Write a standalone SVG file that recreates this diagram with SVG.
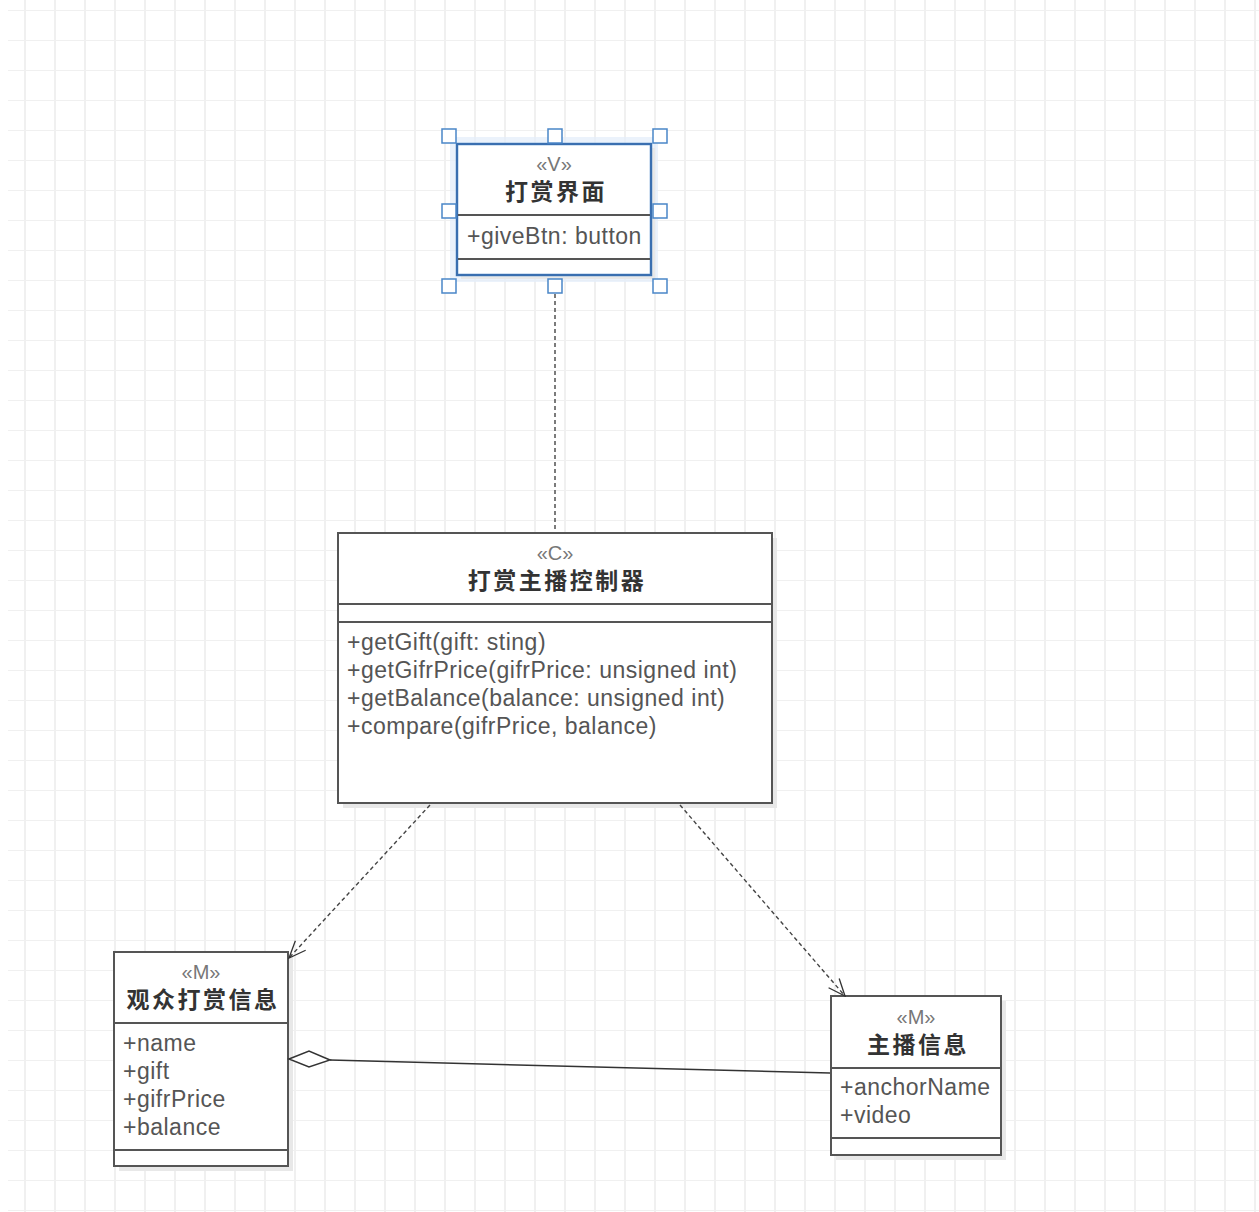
<svg xmlns="http://www.w3.org/2000/svg" width="1259" height="1212" viewBox="0 0 1259 1212">
<defs>
<pattern id="grid" x="10" y="10" width="30" height="30" patternUnits="userSpaceOnUse">
<path d="M15 0V30M0 0H30" fill="none" stroke="#f0f0f0" stroke-width="2"/>
</pattern>
<marker id="open" viewBox="0 0 20 20" refX="19" refY="10" markerWidth="20" markerHeight="20" markerUnits="userSpaceOnUse" orient="auto">
<path d="M2 3L19 10L2 17" fill="none" stroke="#333" stroke-width="1.3"/>
</marker>
</defs>
<style>
.box{fill:#fff;stroke:#555;stroke-width:2}
.shadow{fill:#e8e8e8}
.div{stroke:#555;stroke-width:2}
.st{font-family:"Liberation Sans",Arial,sans-serif;font-size:20px;fill:#777;text-anchor:middle}
.nm{font-family:"Noto Sans CJK SC","Noto Sans",sans-serif;font-size:23px;font-weight:bold;fill:#333;text-anchor:middle;letter-spacing:2.5px}
.at{font-family:"Liberation Sans",Arial,sans-serif;font-size:23px;fill:#555;letter-spacing:0.5px}
.dash{fill:none;stroke:#444;stroke-width:1.4;stroke-dasharray:4 3}
.solid{fill:none;stroke:#333;stroke-width:1.5}
.dia{fill:#fff;stroke:#333;stroke-width:1.5}
.h{fill:#fff;stroke:#4a86c8;stroke-width:1.5}
</style>
<rect width="1259" height="1212" fill="#fff"/>
<rect x="8" y="0" width="1251" height="1212" fill="url(#grid)"/>

<g id="view">
<rect x="450" y="137" width="208" height="145" fill="#e3edf9" opacity="0.7"/>
<rect class="shadow" x="461" y="148" width="194" height="131"/>
<rect x="457" y="144" width="194" height="131" fill="#fff" stroke="#4a86c8" stroke-width="2.5"/>
<line class="div" x1="458" y1="215" x2="650" y2="215"/>
<line class="div" x1="458" y1="259" x2="650" y2="259"/>
<rect x="457" y="144" width="194" height="131" fill="none" stroke="#3a6fb0" stroke-width="2"/>
<text class="st" x="554" y="171">«V»</text>
<text class="nm" x="556" y="200">打赏界面</text>
<text class="at" x="467" y="244">+giveBtn: button</text>
<rect class="h" x="442" y="129" width="14" height="14"/>
<rect class="h" x="548" y="129" width="14" height="14"/>
<rect class="h" x="653" y="129" width="14" height="14"/>
<rect class="h" x="442" y="204" width="14" height="14"/>
<rect class="h" x="653" y="204" width="14" height="14"/>
<rect class="h" x="442" y="279" width="14" height="14"/>
<rect class="h" x="548" y="279" width="14" height="14"/>
<rect class="h" x="653" y="279" width="14" height="14"/>
</g>

<g id="controller">
<rect class="shadow" x="343" y="538" width="434" height="270"/>
<rect class="box" x="338" y="533" width="434" height="270"/>
<line class="div" x1="338" y1="604" x2="772" y2="604"/>
<line class="div" x1="338" y1="622" x2="772" y2="622"/>
<text class="st" x="555" y="560">«C»</text>
<text class="nm" x="557" y="589">打赏主播控制器</text>
<text class="at" x="347" y="650">+getGift(gift: sting)</text>
<text class="at" x="347" y="678">+getGifrPrice(gifrPrice: unsigned int)</text>
<text class="at" x="347" y="706">+getBalance(balance: unsigned int)</text>
<text class="at" x="347" y="734">+compare(gifrPrice, balance)</text>
</g>

<g id="audience">
<rect class="shadow" x="119" y="957" width="174" height="214"/>
<rect class="box" x="114" y="952" width="174" height="214"/>
<line class="div" x1="114" y1="1023" x2="288" y2="1023"/>
<line class="div" x1="114" y1="1150" x2="288" y2="1150"/>
<text class="st" x="201" y="979">«M»</text>
<text class="nm" x="203" y="1008">观众打赏信息</text>
<text class="at" x="123" y="1051">+name</text>
<text class="at" x="123" y="1079">+gift</text>
<text class="at" x="123" y="1107">+gifrPrice</text>
<text class="at" x="123" y="1135">+balance</text>
</g>

<g id="anchor">
<rect class="shadow" x="836" y="1001" width="170" height="159"/>
<rect class="box" x="831" y="996" width="170" height="159"/>
<line class="div" x1="831" y1="1068" x2="1001" y2="1068"/>
<line class="div" x1="831" y1="1138" x2="1001" y2="1138"/>
<text class="st" x="916" y="1024">«M»</text>
<text class="nm" x="918" y="1053">主播信息</text>
<text class="at" x="840" y="1095">+anchorName</text>
<text class="at" x="840" y="1123">+video</text>
</g>

<g id="connectors">
<path class="dash" d="M555 294V532"/>
<path class="dash" d="M430 805L289 958" marker-end="url(#open)"/>
<path class="dash" d="M680 805L845 996" marker-end="url(#open)"/>
<path class="solid" d="M330 1060L830 1073"/>
<polygon class="dia" points="289,1059 309,1051 330,1060 309,1067"/>
</g>
</svg>
